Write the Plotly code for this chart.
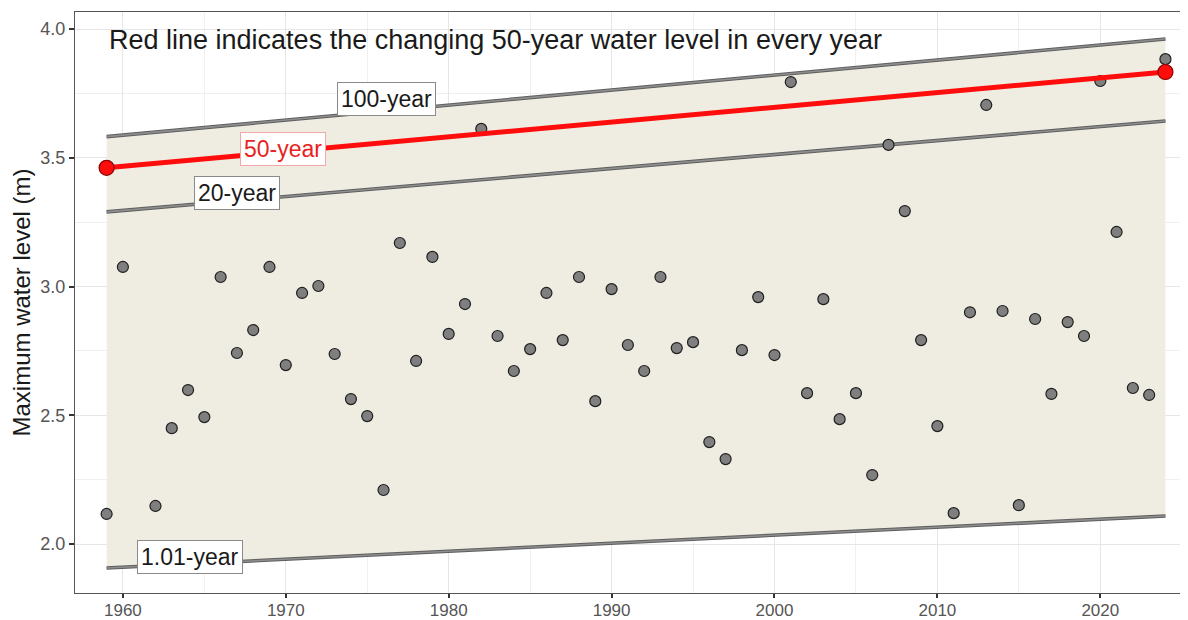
import plotly.graph_objects as go

# ---- data ----
years = [1959, 1960, 1962, 1963, 1964, 1965, 1966, 1967, 1968, 1969, 1970,
         1971, 1972, 1973, 1974, 1975, 1976, 1977, 1978, 1979, 1980,
         1981, 1982, 1983, 1984, 1985, 1986, 1987, 1988, 1989, 1990,
         1991, 1992, 1993, 1994, 1995, 1996, 1997, 1998, 1999, 2000,
         2001, 2002, 2003, 2004, 2005, 2006, 2007, 2008, 2009, 2010,
         2011, 2012, 2013, 2014, 2015, 2016, 2017, 2018, 2019, 2020,
         2021, 2022, 2023, 2024]
max_level = [2.117, 3.076, 2.148, 2.450, 2.598, 2.493, 3.037, 2.742, 2.831, 3.076, 2.695,
             2.975, 3.002, 2.738, 2.563, 2.497, 2.210, 3.169, 2.711, 3.115, 2.816,
             2.932, 3.612, 2.808, 2.672, 2.757, 2.975, 2.792, 3.037, 2.555, 2.990,
             2.773, 2.672, 3.037, 2.761, 2.784, 2.396, 2.330, 2.753, 2.959, 2.734,
             3.794, 2.586, 2.951, 2.485, 2.586, 2.268, 3.550, 3.293, 2.792, 2.458,
             2.120, 2.900, 3.705, 2.905, 2.151, 2.874, 2.583, 2.862, 2.808, 3.798,
             3.212, 2.606, 2.579, 3.883]

rl_years = [1959, 2024]
rl_1_01 = [1.907, 2.109]
rl_20 = [3.290, 3.643]
rl_50 = [3.461, 3.833]
rl_100 = [3.582, 3.961]

x_ticks = [1960, 1970, 1980, 1990, 2000, 2010, 2020]
y_ticks = [2.0, 2.5, 3.0, 3.5, 4.0]

FONT = "Liberation Sans, Arial, sans-serif"
GRAY_LINE = "#7a7a7a"

fig = go.Figure()

# shaded band between 1.01-year and 100-year
fig.add_trace(go.Scatter(x=rl_years, y=rl_1_01, mode="lines",
                         line=dict(color=GRAY_LINE, width=0), showlegend=False,
                         hoverinfo="skip"))
fig.add_trace(go.Scatter(x=rl_years, y=rl_100, mode="lines", fill="tonexty",
                         fillcolor="#efede1",
                         line=dict(color=GRAY_LINE, width=0), showlegend=False,
                         hoverinfo="skip"))

# return-level gray lines
for yv in (rl_1_01, rl_20, rl_100):
    fig.add_trace(go.Scatter(x=rl_years, y=yv, mode="lines",
                             line=dict(color="#5e5e5e", width=3.6), showlegend=False,
                             hoverinfo="skip"))
    fig.add_trace(go.Scatter(x=rl_years, y=yv, mode="lines",
                             line=dict(color="#8e8e8e", width=1.6), showlegend=False,
                             hoverinfo="skip"))

# observations
fig.add_trace(go.Scatter(x=years, y=max_level, mode="markers",
                         marker=dict(size=11, color="#7f7f7f",
                                     line=dict(color="#1f1f1f", width=1.2)),
                         showlegend=False))

# 50-year red line
fig.add_trace(go.Scatter(x=rl_years, y=rl_50, mode="lines+markers",
                         line=dict(color="#ff0d0d", width=5),
                         marker=dict(size=15, color="#ff0d0d",
                                     line=dict(color="#8b0000", width=1.2)),
                         showlegend=False))

# labels
def label(text, x, y, color="#1a1a1a", border="#8a8a8a"):
    fig.add_annotation(x=x, y=y, text=text, showarrow=False,
                       font=dict(family=FONT, size=23, color=color),
                       bgcolor="white", bordercolor=border, borderwidth=1,
                       borderpad=3, xanchor="center", yanchor="middle")

label("100-year", 1976.2, 3.728)
label("50-year", 1969.8, 3.534, color="#e8231e", border="#f2a8a8")
label("20-year", 1967.0, 3.363)
label("1.01-year", 1964.1, 1.950)

fig.add_annotation(x=1959.0, y=3.957, xref="x", yref="y",
                   text="Red line indicates the changing 50-year water level in every year",
                   showarrow=False, xanchor="left", yanchor="middle",
                   font=dict(family=FONT, size=27, color="#1a1a1a"))

# page body adds an 8px offset, so figure is sized to fit the window
fig.update_layout(
    width=1180, height=612,
    margin=dict(l=67, r=3, t=4, b=27),
    paper_bgcolor="white", plot_bgcolor="white",
    font=dict(family=FONT),
)
fig.update_xaxes(range=[1957.06, 2025.2], tickvals=x_ticks,
                 ticks="outside", ticklen=4, tickcolor="#333333", tickwidth=1.5,
                 tickfont=dict(family=FONT, size=17, color="#555555"),
                 ticklabelstandoff=-3,
                 showgrid=True, gridcolor="#e6e6e6", gridwidth=1.2,
                 minor=dict(dtick=5, tick0=1955, showgrid=True, gridcolor="#f0f0f0", gridwidth=0.8),
                 showline=True, linecolor="#555555", linewidth=1.3, mirror=True,
                 zeroline=False, automargin=False)
fig.update_yaxes(range=[1.81, 4.066], tickvals=y_ticks, tickformat=".1f",
                 ticks="outside", ticklen=5, tickcolor="#333333", tickwidth=1.5,
                 tickfont=dict(family=FONT, size=18, color="#555555"),
                 showgrid=True, gridcolor="#e6e6e6", gridwidth=1.2,
                 minor=dict(dtick=0.25, tick0=1.75, showgrid=True, gridcolor="#f0f0f0", gridwidth=0.8),
                 showline=True, linecolor="#555555", linewidth=1.3, mirror=True,
                 zeroline=False, automargin=False,
                 title=dict(text="Maximum water level (m)", standoff=10,
                            font=dict(family=FONT, size=24, color="#1a1a1a")))

fig.write_html("out.html")
